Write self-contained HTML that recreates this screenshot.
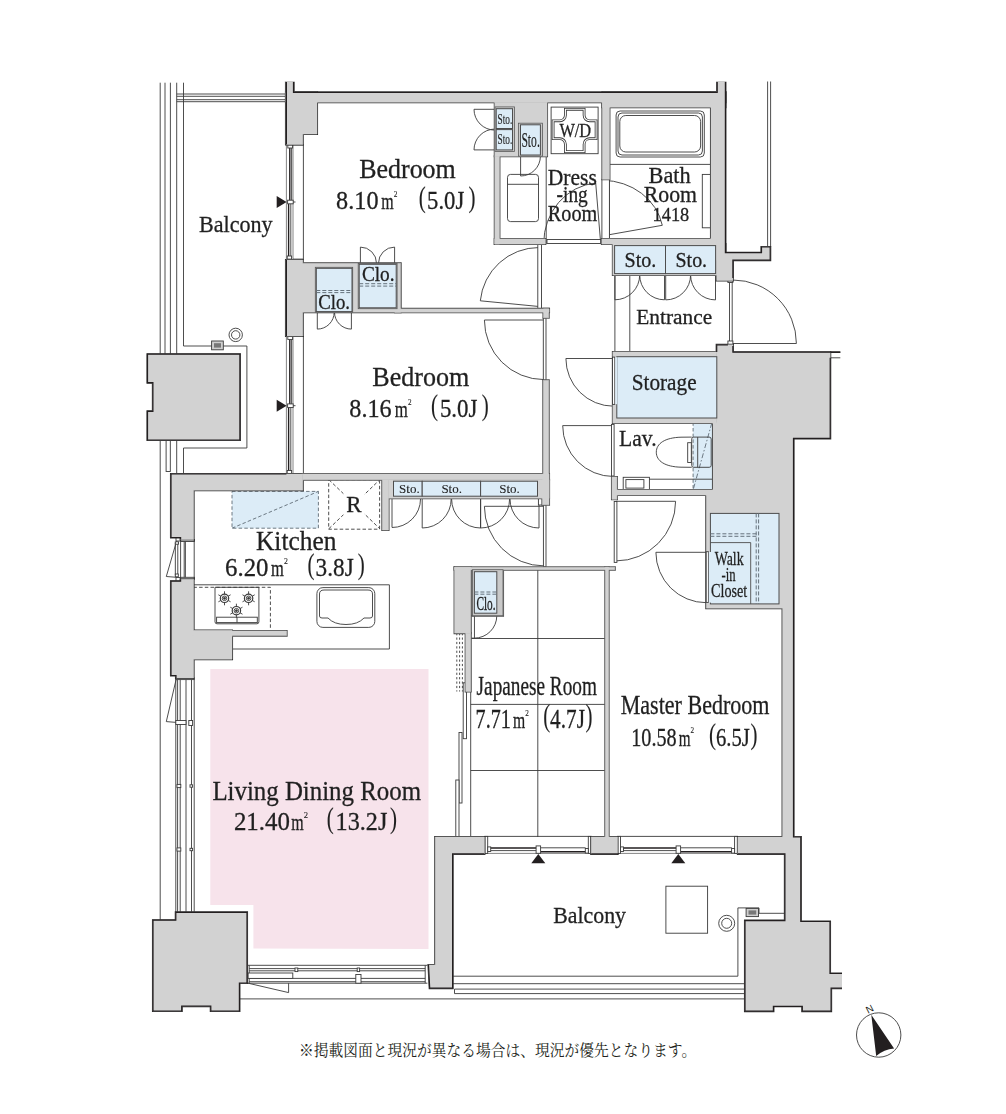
<!DOCTYPE html>
<html><head><meta charset="utf-8"><title>Floor plan</title>
<style>
html,body{margin:0;padding:0;background:#fff;}
body{width:1006px;height:1114px;position:relative;overflow:hidden;font-family:"Liberation Serif",serif;}
svg text{font-family:"Liberation Serif",serif;fill:#231f20;}
</style></head><body>
<svg width="1006" height="1114" viewBox="0 0 1006 1114" style="display:block;position:absolute;left:0;top:0">
<rect x="0" y="0" width="1006" height="1114" fill="#fff"/>
<polygon points="210.3,669.1 428.5,669.1 428.5,948.9 253.4,948.6 253.4,905.1 210.3,904.9" fill="#f7e3eb"/>
<g stroke="none">
<rect x="232.0" y="491.4" width="86.4" height="36.8" fill="#dcecf7"/>
<rect x="693.1" y="423.0" width="19.9" height="67.0" fill="#dcecf7"/>
</g>
<g fill="none" stroke="#3a3a3a" stroke-width="0.9">
<line x1="160.2" y1="82.7" x2="160.2" y2="920.3"/>
<line x1="165.0" y1="82.7" x2="165.0" y2="354.0"/>
<line x1="170.4" y1="82.7" x2="170.4" y2="354.0"/>
<line x1="176.7" y1="82.7" x2="176.7" y2="354.0"/>
<line x1="183.5" y1="82.7" x2="183.5" y2="346.0"/>
<line x1="176.7" y1="94.0" x2="286.0" y2="94.0"/>
<line x1="176.7" y1="96.3" x2="286.0" y2="96.3"/>
<line x1="176.7" y1="99.7" x2="286.0" y2="99.7"/>
<line x1="176.7" y1="101.7" x2="286.0" y2="101.7"/>
<polyline points="183.5,346.0 246.9,346.0 246.9,448.0 183.5,448.0 183.5,474.0"/>
<line x1="176.7" y1="440.0" x2="176.7" y2="474.0"/>
<rect x="166.1" y="440.0" width="4.2" height="31.5"/>
<circle cx="235.7" cy="334.9" r="6.7"/>
<circle cx="235.7" cy="334.9" r="4.2"/>
<rect x="211.6" y="341.0" width="11.7" height="8.8" fill="#cfcfcf"/>
<rect x="214.0" y="343.2" width="7.0" height="4.4" fill="#777" stroke="none"/>
<line x1="303.4" y1="144.5" x2="303.4" y2="259.5"/>
<line x1="286.4" y1="144.5" x2="286.4" y2="259.5" stroke="#777"/>
<line x1="293.0" y1="144.5" x2="293.0" y2="259.5" stroke="#777"/>
<line x1="289.8" y1="148.0" x2="289.8" y2="200.4" stroke="#231f20" stroke-width="1.4"/>
<line x1="291.6" y1="148.0" x2="291.6" y2="200.4"/>
<line x1="288.6" y1="203.8" x2="288.6" y2="256.0" stroke="#231f20" stroke-width="1.4"/>
<line x1="290.8" y1="203.8" x2="290.8" y2="256.0"/>
<rect x="287.8" y="144.9" width="4.8" height="3.1" fill="#fff"/>
<rect x="287.2" y="256.0" width="4.4" height="3.1" fill="#fff"/>
<line x1="293.0" y1="144.9" x2="303.4" y2="144.9"/>
<line x1="293.0" y1="259.1" x2="303.4" y2="259.1"/>
<rect x="287.6" y="200.2" width="5.6" height="3.6" fill="#fff"/>
<line x1="293.2" y1="202.0" x2="295.5" y2="202.0"/>
<line x1="303.4" y1="336.0" x2="303.4" y2="474.0"/>
<line x1="286.4" y1="336.0" x2="286.4" y2="474.0" stroke="#777"/>
<line x1="293.0" y1="336.0" x2="293.0" y2="474.0" stroke="#777"/>
<line x1="289.8" y1="339.5" x2="289.8" y2="404.1" stroke="#231f20" stroke-width="1.4"/>
<line x1="291.6" y1="339.5" x2="291.6" y2="404.1"/>
<line x1="288.6" y1="407.5" x2="288.6" y2="470.5" stroke="#231f20" stroke-width="1.4"/>
<line x1="290.8" y1="407.5" x2="290.8" y2="470.5"/>
<rect x="287.8" y="336.4" width="4.8" height="3.1" fill="#fff"/>
<rect x="287.2" y="470.5" width="4.4" height="3.1" fill="#fff"/>
<line x1="293.0" y1="336.4" x2="303.4" y2="336.4"/>
<line x1="293.0" y1="473.6" x2="303.4" y2="473.6"/>
<rect x="287.6" y="403.9" width="5.6" height="3.6" fill="#fff"/>
<line x1="293.2" y1="405.7" x2="295.5" y2="405.7"/>
<line x1="360.4" y1="263.2" x2="360.4" y2="247.1"/>
<line x1="394.6" y1="263.2" x2="394.6" y2="247.1"/>
<path d="M360.4,247.1A16.1,16.1 0 0 1 376.5,263.2"/>
<path d="M394.6,247.1A16.1,16.1 0 0 0 378.5,263.2"/>
<line x1="317.3" y1="312.2" x2="317.3" y2="329.1"/>
<line x1="351.4" y1="312.2" x2="351.4" y2="329.1"/>
<path d="M317.3,329.1A16.9,16.9 0 0 0 334.2,312.2"/>
<path d="M351.4,329.1A16.9,16.9 0 0 1 334.5,312.2"/>
<line x1="494.8" y1="109.3" x2="474.0" y2="109.3"/>
<line x1="494.8" y1="149.9" x2="474.0" y2="149.9"/>
<path d="M474.0,109.3A20.8,20.8 0 0 0 494.8,130.1"/>
<path d="M474.0,149.9A20.8,20.8 0 0 1 494.8,129.1"/>
<line x1="520.6" y1="156.2" x2="520.6" y2="176.0"/>
<path d="M520.6,176.0A19.8,19.8 0 0 0 540.4,156.2"/>
<rect x="507.5" y="174.4" width="31" height="47.2" rx="3" ry="3"/>
<line x1="507.5" y1="184.3" x2="538.5" y2="184.3"/>
<line x1="546.2" y1="155.7" x2="546.2" y2="244.0"/>
<rect x="551.1" y="107.1" width="47.0" height="46.6"/>
<path d="M565.4,109.3 L584.1,109.3 L584.1,115.3 A5.5,5.5 0 0 0 589.6,120.8 L596.1,120.8 L596.1,138.7 L589.6,138.7 A5.5,5.5 0 0 0 584.1,144.2 L584.1,151.6 L565.4,151.6 L565.4,144.2 A5.5,5.5 0 0 0 559.9,138.7 L553.1,138.7 L553.1,120.8 L559.9,120.8 A5.5,5.5 0 0 0 565.4,115.3 Z" stroke-width="2.8" stroke="#3a3a3a"/>
<path d="M565.4,109.3 L584.1,109.3 L584.1,115.3 A5.5,5.5 0 0 0 589.6,120.8 L596.1,120.8 L596.1,138.7 L589.6,138.7 A5.5,5.5 0 0 0 584.1,144.2 L584.1,151.6 L565.4,151.6 L565.4,144.2 A5.5,5.5 0 0 0 559.9,138.7 L553.1,138.7 L553.1,120.8 L559.9,120.8 A5.5,5.5 0 0 0 565.4,115.3 Z" stroke-width="1.1" stroke="#fff"/>
<rect x="616.1" y="111" width="88.2" height="46" rx="4" ry="4"/>
<rect x="618" y="113" width="84.4" height="42" rx="4" ry="4"/>
<rect x="619.8" y="115.5" width="80.8" height="36.5" rx="6" ry="6"/>
<line x1="609.4" y1="164.4" x2="711.0" y2="164.4"/>
<rect x="702.3" y="174.4" width="8.7" height="53.4"/>
<rect x="609.4" y="107.3" width="101.6" height="131.7"/>
<line x1="539.0" y1="306.5" x2="480.3" y2="300.8"/>
<path d="M480.3,300.8A59.0,59.0 0 0 1 539.0,247.5"/>
<line x1="600.7" y1="243.5" x2="595.7" y2="183.0"/>
<path d="M595.7,183 A57,60.5 0 0 0 543.7,243.5"/>
<line x1="601.9" y1="236.0" x2="662.3" y2="225.3"/>
<path d="M662.3,225.3 A61.5,55.5 0 0 0 603,180.3"/>
<rect x="601.9" y="179.3" width="7.5" height="59.7" fill="#fff"/>
<line x1="732.9" y1="343.5" x2="796.4" y2="343.5"/>
<path d="M796.4,343.5A63.5,63.5 0 0 0 732.9,280.0"/>
<line x1="729.5" y1="281.0" x2="729.5" y2="343.0"/>
<line x1="732.2" y1="281.0" x2="732.2" y2="343.0"/>
<rect x="727.9" y="277.5" width="5.0" height="5.0" fill="#fff"/>
<rect x="727.9" y="341.0" width="5.0" height="5.0" fill="#fff"/>
<line x1="544.0" y1="320.0" x2="484.4" y2="320.0"/>
<path d="M484.4,320.0A59.6,59.6 0 0 0 544.0,379.6"/>
<line x1="613.6" y1="358.5" x2="565.9" y2="358.5"/>
<path d="M565.9,358.5A47.7,47.7 0 0 0 613.6,406.2"/>
<line x1="613.6" y1="425.6" x2="562.7" y2="425.6"/>
<path d="M562.7,425.6A50.9,50.9 0 0 0 613.6,476.5"/>
<line x1="544.0" y1="506.3" x2="484.4" y2="506.3"/>
<path d="M484.4,506.3A59.6,59.6 0 0 0 544.0,565.9"/>
<line x1="616.0" y1="501.3" x2="675.6" y2="501.3"/>
<path d="M675.6,501.3A59.6,59.6 0 0 1 616.0,560.9"/>
<line x1="706.3" y1="552.3" x2="655.9" y2="552.3"/>
<path d="M655.9,552.3A50.4,50.4 0 0 0 706.3,602.7"/>
<rect x="470.7" y="615.7" width="3.7" height="22.4"/>
<path d="M474.4,638.1A22.4,22.4 0 0 0 496.8,615.7"/>
<line x1="614.9" y1="275.0" x2="614.9" y2="299.8"/>
<line x1="664.5" y1="275.0" x2="664.5" y2="299.8"/>
<path d="M614.9,299.8A24.8,24.8 0 0 0 639.7,275.0"/>
<path d="M664.5,299.8A24.8,24.8 0 0 1 639.7,275.0"/>
<line x1="665.7" y1="275.0" x2="665.7" y2="299.9"/>
<line x1="715.5" y1="275.0" x2="715.5" y2="299.9"/>
<path d="M665.7,299.9A24.9,24.9 0 0 0 690.6,275.0"/>
<path d="M715.5,299.9A24.9,24.9 0 0 1 690.6,275.0"/>
<line x1="614.9" y1="275.0" x2="614.9" y2="352.0"/>
<line x1="629.8" y1="275.0" x2="629.8" y2="352.0"/>
<line x1="767.6" y1="81.5" x2="767.6" y2="247.0"/>
<line x1="770.6" y1="81.5" x2="770.6" y2="247.0"/>
<rect x="537.8" y="244.0" width="3.7" height="64.6" fill="#fff"/>
<rect x="232.0" y="491.4" width="86.4" height="36.8" stroke-dasharray="3.5 2.2" stroke="#5f6b75"/>
<line x1="232.0" y1="528.2" x2="318.4" y2="491.4" stroke-dasharray="3.5 2.2" stroke="#5f6b75"/>
<rect x="328.7" y="479.7" width="50.9" height="49.5" stroke-dasharray="3.5 2.2"/>
<line x1="328.9" y1="479.7" x2="379.8" y2="528.7" stroke-dasharray="3.5 2.2"/>
<line x1="328.9" y1="528.7" x2="379.8" y2="479.7" stroke-dasharray="3.5 2.2"/>
<rect x="343.5" y="493.0" width="21.0" height="22.0" fill="#fff" stroke="none"/>
<polyline points="193.4,584.8 389.4,584.8 389.4,649.0 232.0,649.0"/>
<polyline points="193.4,587.3 270.4,587.3 270.4,630.6" stroke-dasharray="3.5 2.2"/>
<path d="M215,587.3 L258.9,587.3 L258.9,621.8 Q258.9,623.8 256.9,623.8 L217,623.8 Q215,623.8 215,621.8 Z"/>
<rect x="216.6" y="617.2" width="40.7" height="5.4"/>
<line x1="237.0" y1="617.2" x2="237.0" y2="622.6"/>
<circle cx="224.5" cy="598.3" r="4.2" stroke-width="1.2"/>
<circle cx="224.5" cy="598.3" r="2.3"/>
<circle cx="224.5" cy="598.3" r="1.0" fill="#3a3a3a"/>
<line x1="228.1" y1="600.4" x2="230.6" y2="601.8"/>
<line x1="224.5" y1="602.5" x2="224.5" y2="605.3"/>
<line x1="220.9" y1="600.4" x2="218.4" y2="601.8"/>
<line x1="220.9" y1="596.2" x2="218.4" y2="594.8"/>
<line x1="224.5" y1="594.1" x2="224.5" y2="591.3"/>
<line x1="228.1" y1="596.2" x2="230.6" y2="594.8"/>
<circle cx="248.6" cy="598.3" r="4.2" stroke-width="1.2"/>
<circle cx="248.6" cy="598.3" r="2.3"/>
<circle cx="248.6" cy="598.3" r="1.0" fill="#3a3a3a"/>
<line x1="252.2" y1="600.4" x2="254.7" y2="601.8"/>
<line x1="248.6" y1="602.5" x2="248.6" y2="605.3"/>
<line x1="245.0" y1="600.4" x2="242.5" y2="601.8"/>
<line x1="245.0" y1="596.2" x2="242.5" y2="594.8"/>
<line x1="248.6" y1="594.1" x2="248.6" y2="591.3"/>
<line x1="252.2" y1="596.2" x2="254.7" y2="594.8"/>
<circle cx="236.4" cy="610.7" r="4.2" stroke-width="1.2"/>
<circle cx="236.4" cy="610.7" r="2.3"/>
<circle cx="236.4" cy="610.7" r="1.0" fill="#3a3a3a"/>
<line x1="240.0" y1="612.8" x2="242.5" y2="614.2"/>
<line x1="236.4" y1="614.9" x2="236.4" y2="617.7"/>
<line x1="232.8" y1="612.8" x2="230.3" y2="614.2"/>
<line x1="232.8" y1="608.6" x2="230.3" y2="607.2"/>
<line x1="236.4" y1="606.5" x2="236.4" y2="603.7"/>
<line x1="240.0" y1="608.6" x2="242.5" y2="607.2"/>
<rect x="316.9" y="587.6" width="57.9" height="39.8" rx="6" ry="6"/>
<path d="M319.5,594 Q319.5,590 324,590 L368,590 Q372.5,590 372.5,594 L372.5,616 Q372.5,618 370,618 L364,618 Q358,624.5 346,624.5 Q334,624.5 328,618 L322,618 Q319.5,618 319.5,616 Z"/>
<line x1="392.0" y1="499.0" x2="392.0" y2="527.4"/>
<path d="M392.0,527.5A28.5,28.5 0 0 0 420.5,499.0"/>
<line x1="422.2" y1="499.0" x2="422.2" y2="528.0"/>
<line x1="480.6" y1="499.0" x2="480.6" y2="528.0"/>
<path d="M422.2,528.0A29.0,29.0 0 0 0 451.2,499.0"/>
<path d="M480.6,528.0A29.0,29.0 0 0 1 451.6,499.0"/>
<line x1="480.6" y1="499.0" x2="480.6" y2="528.0"/>
<line x1="539.0" y1="499.0" x2="539.0" y2="528.0"/>
<path d="M480.6,528.0A29.0,29.0 0 0 0 509.6,499.0"/>
<path d="M539.0,528.0A29.0,29.0 0 0 1 510.0,499.0"/>
<line x1="830.2" y1="352.2" x2="840.3" y2="352.2" stroke="#231f20" stroke-width="1.5"/>
<line x1="830.2" y1="357.8" x2="840.3" y2="357.8"/>
<rect x="693.1" y="423.0" width="19.9" height="67.0" stroke-dasharray="3.5 2.2" stroke="#5f6b75"/>
<line x1="711.8" y1="423.0" x2="693.1" y2="490.0" stroke-dasharray="5 2 1.5 2" stroke="#5f6b75"/>
<path d="M691.7,437.1 L681,437.2 C665,437.6 656.3,443.5 656.3,452.2 C656.3,461 665,466.8 681,467.2 L691.7,467.3"/>
<rect x="691.7" y="437.1" width="19.5" height="30.2" rx="2" ry="2"/>
<line x1="697.7" y1="437.1" x2="697.7" y2="467.3"/>
<rect x="687.7" y="442.7" width="3.6" height="19.8" fill="#fff"/>
<rect x="623.2" y="477.3" width="26.2" height="12.6" fill="#fff"/>
<rect x="625.9" y="479.6" width="18.0" height="8.5"/>
<line x1="649.4" y1="479.2" x2="712.5" y2="479.2"/>
<line x1="537.8" y1="569.7" x2="537.8" y2="837.0"/>
<line x1="470.7" y1="638.5" x2="604.9" y2="638.5"/>
<line x1="470.7" y1="704.4" x2="604.9" y2="704.4"/>
<line x1="470.7" y1="770.5" x2="604.9" y2="770.5"/>
<line x1="470.7" y1="569.7" x2="470.7" y2="837.0"/>
<line x1="456.8" y1="633.1" x2="456.8" y2="691.5" stroke-dasharray="2.2 2.2"/>
<line x1="459.6" y1="633.1" x2="459.6" y2="691.5" stroke-dasharray="2.2 2.2"/>
<line x1="462.4" y1="633.1" x2="462.4" y2="691.5" stroke-dasharray="2.2 2.2"/>
<rect x="463.2" y="682.8" width="3.3" height="55.9" fill="#fff"/>
<rect x="459.0" y="732.5" width="3.0" height="70.5" fill="#fff"/>
<rect x="455.8" y="780.0" width="3.2" height="57.0" fill="#fff"/>
<rect x="543.3" y="317.8" width="2.7" height="62.5" fill="#fff"/>
<rect x="543.4" y="504.8" width="2.6" height="62.0" fill="#fff"/>
<rect x="614.2" y="501.5" width="2.7" height="60.9" fill="#fff"/>
<rect x="611.5" y="424.4" width="2.6" height="51.6" fill="#fff"/>
<rect x="612.5" y="357.1" width="2.3" height="47.3" fill="#fff"/>
<rect x="538.4" y="498.2" width="5.0" height="6.8" fill="#fff"/>
<rect x="547.0" y="239.5" width="53.7" height="4.0" fill="#fff"/>
<line x1="484.4" y1="836.4" x2="591.6" y2="836.4"/>
<line x1="484.4" y1="853.4" x2="591.6" y2="853.4" stroke="#777"/>
<rect x="484.8" y="836.4" width="2.9" height="17.0" fill="#fff"/>
<rect x="588.3" y="836.4" width="2.9" height="17.0" fill="#fff"/>
<line x1="490.4" y1="848.1" x2="536.9" y2="848.1" stroke="#231f20" stroke-width="1.5"/>
<line x1="490.4" y1="850.6" x2="536.9" y2="850.6"/>
<line x1="540.5" y1="847.8" x2="585.6" y2="847.8"/>
<line x1="540.5" y1="851.7" x2="585.6" y2="851.7" stroke="#231f20" stroke-width="1.5"/>
<rect x="487.7" y="846.9" width="3.0" height="4.6" fill="#fff"/>
<rect x="585.3" y="848.5" width="3.0" height="4.6" fill="#fff"/>
<rect x="536.1" y="845.9" width="4.5" height="7.4" fill="#fff"/>
<line x1="617.2" y1="836.4" x2="737.9" y2="836.4"/>
<line x1="617.2" y1="853.4" x2="737.9" y2="853.4" stroke="#777"/>
<rect x="617.6" y="836.4" width="2.9" height="17.0" fill="#fff"/>
<rect x="734.6" y="836.4" width="2.9" height="17.0" fill="#fff"/>
<line x1="623.2" y1="848.1" x2="676.9" y2="848.1" stroke="#231f20" stroke-width="1.5"/>
<line x1="623.2" y1="850.6" x2="676.9" y2="850.6"/>
<line x1="680.5" y1="847.8" x2="731.9" y2="847.8"/>
<line x1="680.5" y1="851.7" x2="731.9" y2="851.7" stroke="#231f20" stroke-width="1.5"/>
<rect x="620.5" y="846.9" width="3.0" height="4.6" fill="#fff"/>
<rect x="731.6" y="848.5" width="3.0" height="4.6" fill="#fff"/>
<rect x="676.1" y="845.9" width="4.5" height="7.4" fill="#fff"/>
<polyline points="452.6,976.2 737.9,976.2 737.9,907.9 759.0,907.9 759.0,913.3 785.0,913.3"/>
<line x1="452.6" y1="983.7" x2="745.0" y2="983.7"/>
<line x1="454.5" y1="989.1" x2="745.0" y2="989.1"/>
<line x1="454.5" y1="993.6" x2="745.0" y2="993.6"/>
<line x1="454.5" y1="989.1" x2="454.5" y2="993.6"/>
<line x1="239.4" y1="998.9" x2="745.0" y2="998.9"/>
<rect x="665.9" y="886.2" width="41.7" height="47.0"/>
<circle cx="726.7" cy="923.3" r="8.0"/>
<circle cx="726.7" cy="923.3" r="5.0"/>
<rect x="746.1" y="908.4" width="12.4" height="8.2" fill="#cfcfcf"/>
<rect x="748.5" y="910.4" width="7.7" height="4.2" fill="#777" stroke="none"/>
<line x1="175.8" y1="679.0" x2="175.8" y2="912.1"/>
<line x1="177.6" y1="679.0" x2="177.6" y2="912.1"/>
<line x1="180.2" y1="679.0" x2="180.2" y2="912.1"/>
<line x1="186.0" y1="679.0" x2="186.0" y2="912.1"/>
<line x1="191.5" y1="679.0" x2="191.5" y2="912.1"/>
<line x1="194.2" y1="679.0" x2="194.2" y2="912.1"/>
<polyline points="176.2,679.1 166.3,721.6 176.2,722.4"/>
<rect x="175.8" y="720.5" width="10.2" height="4.0" fill="#fff"/>
<rect x="188.8" y="720.5" width="3.8" height="5.0" fill="#fff"/>
<rect x="177.0" y="784.4" width="3.8" height="3.2" fill="#fff"/>
<rect x="190.0" y="784.8" width="2.6" height="2.4" fill="#fff"/>
<rect x="177.0" y="847.9" width="3.8" height="3.2" fill="#fff"/>
<rect x="190.0" y="848.3" width="2.6" height="2.4" fill="#fff"/>
<rect x="175.8" y="677.9" width="18.4" height="1.7" fill="#fff"/>
<rect x="180.6" y="539.5" width="13.9" height="2.0" fill="#fff"/>
<rect x="180.6" y="577.3" width="13.9" height="1.9" fill="#fff"/>
<line x1="180.6" y1="537.5" x2="180.6" y2="581.2"/>
<line x1="184.2" y1="541.5" x2="184.2" y2="577.3"/>
<line x1="185.4" y1="541.5" x2="185.4" y2="577.3"/>
<line x1="194.2" y1="539.5" x2="194.2" y2="579.2"/>
<polyline points="176.6,541.1 166.3,576.5 176.6,577.3"/>
<rect x="175.3" y="543.0" width="2.5" height="32.0"/>
<rect x="175.3" y="541.8" width="3.2" height="2.4" fill="#fff"/>
<rect x="175.3" y="574.0" width="3.0" height="2.8" fill="#fff"/>
<polyline points="176.0,537.5 176.0,541.0 180.6,541.0"/>
<polyline points="176.0,581.2 176.0,577.5 180.6,577.5"/>
<line x1="247.4" y1="965.3" x2="427.4" y2="965.3"/>
<line x1="247.4" y1="983.2" x2="427.4" y2="983.2"/>
<line x1="249.2" y1="968.6" x2="425.2" y2="968.6"/>
<line x1="249.2" y1="970.8" x2="425.2" y2="970.8"/>
<line x1="249.2" y1="978.4" x2="425.2" y2="978.4"/>
<line x1="249.2" y1="981.7" x2="425.2" y2="981.7"/>
<line x1="249.2" y1="965.3" x2="249.2" y2="983.2"/>
<line x1="425.2" y1="965.3" x2="425.2" y2="983.2"/>
<rect x="248.1" y="973.0" width="44.7" height="5.4" fill="#fff"/>
<polyline points="248.1,983.2 288.6,992.6 288.6,983.2"/>
<rect x="355.8" y="974.5" width="5.2" height="8.7" fill="#fff"/>
<rect x="357.2" y="968.0" width="2.4" height="3.6" fill="#fff"/>
<rect x="295.0" y="968.0" width="2.8" height="3.6" fill="#fff"/>
</g>
<g fill="#231f20" stroke="none">
<polygon points="276.7,196.0 286.6,202.0 276.7,208.0"/>
<polygon points="276.7,399.7 286.6,405.7 276.7,411.7"/>
<polygon points="538.3,854.0 545.3,863.3 531.3,863.3"/>
<polygon points="678.3,854.0 685.3,863.3 671.3,863.3"/>
</g>
<g fill="none" stroke="#2e2e2e" stroke-width="2.1" stroke-linejoin="miter">
<polygon points="286.0,82.0 293.6,82.0 293.6,92.4 717.2,92.4 717.2,82.0 725.4,82.0 725.4,102.3 286.0,102.3"/>
<polygon points="286.0,92.4 317.0,92.4 317.0,134.0 302.8,134.0 302.8,144.5 286.0,144.5"/>
<polygon points="602.4,92.4 725.4,92.4 725.4,107.3 602.4,107.3"/>
<polygon points="711.0,92.4 725.4,92.4 725.4,260.1 711.0,260.1"/>
<polygon points="725.4,252.7 761.5,252.7 761.5,247.0 770.2,247.0 770.2,260.1 720.0,260.1"/>
<polygon points="716.7,244.0 725.4,244.0 725.4,256.0 732.9,256.0 732.9,280.5 716.7,280.5"/>
<polygon points="286.0,260.0 302.8,260.0 302.8,263.2 400.6,263.2 400.6,312.2 302.8,312.2 302.8,336.0 286.0,336.0"/>
<polygon points="171.0,474.0 302.8,474.0 302.8,490.2 193.6,490.2 193.6,539.5 180.6,539.5 180.6,537.5 171.0,537.5"/>
<polygon points="171.0,581.2 180.6,581.2 180.6,579.2 193.6,579.2 193.6,630.6 232.0,630.6 232.0,659.2 193.6,659.2 193.6,677.9 176.0,677.9 176.0,675.5 171.0,675.5"/>
<polygon points="147.5,354.2 239.9,354.2 239.9,440.0 147.5,440.0 147.5,411.4 152.9,411.4 152.9,382.6 147.5,382.6"/>
<polygon points="153.0,920.2 175.8,920.2 175.8,912.3 247.0,912.3 247.0,983.0 239.4,983.0 239.4,1011.0 210.8,1011.0 210.8,1006.2 181.7,1006.2 181.7,1011.0 153.0,1011.0"/>
<polygon points="435.2,837.0 484.4,837.0 484.4,853.9 452.6,853.9 452.6,988.1 429.7,988.1 428.5,965.0 435.2,965.0"/>
<polygon points="591.2,837.0 617.5,837.0 617.5,853.9 591.2,853.9"/>
<polygon points="716.7,344.8 732.9,344.8 732.9,352.2 830.2,352.2 830.2,438.4 793.5,438.4 793.5,837.0 800.8,837.0 800.8,921.5 830.0,921.5 830.0,973.5 842.0,973.5 842.0,988.1 831.1,988.1 831.1,1011.1 802.3,1011.1 802.3,1006.3 773.4,1006.3 773.4,1011.1 745.0,1011.1 745.0,920.6 784.9,920.6 784.9,853.9 737.9,853.9 737.9,837.0 782.6,837.0 782.6,608.2 706.3,608.2 706.3,495.0 713.0,495.0 713.0,423.0 716.7,423.0"/>
</g>
<g fill="none" stroke="#4a4a4a" stroke-width="2.1" stroke-linejoin="miter">
<polygon points="494.8,102.3 547.0,102.3 547.0,156.2 494.8,156.2"/>
<polygon points="494.8,156.2 499.4,156.2 499.4,244.0 494.8,244.0"/>
<polygon points="494.8,239.0 545.3,239.0 545.3,244.0 494.8,244.0"/>
<polygon points="602.4,102.3 609.4,102.3 609.4,179.3 602.4,179.3"/>
<polygon points="601.9,239.0 716.7,239.0 716.7,244.0 601.9,244.0"/>
<polygon points="612.9,244.0 716.7,244.0 716.7,275.0 612.9,275.0"/>
<polygon points="395.0,308.9 549.0,308.9 549.0,312.2 395.0,312.2"/>
<polygon points="543.5,308.9 548.7,308.9 548.7,317.8 543.5,317.8"/>
<polygon points="543.3,380.3 548.7,380.3 548.7,499.0 543.3,499.0"/>
<polygon points="302.8,474.0 549.0,474.0 549.0,479.7 302.8,479.7"/>
<polygon points="382.3,479.7 388.5,479.7 388.5,530.0 382.3,530.0"/>
<polygon points="388.5,479.7 549.0,479.7 549.0,498.2 388.5,498.2"/>
<polygon points="542.4,479.7 549.0,479.7 549.0,504.8 542.4,504.8"/>
<polygon points="612.9,352.0 716.7,352.0 716.7,423.0 612.9,423.0"/>
<polygon points="612.0,477.0 616.9,477.0 616.9,499.3 612.0,499.3"/>
<polygon points="612.9,490.0 713.0,490.0 713.0,495.0 612.9,495.0"/>
<polygon points="454.6,567.2 470.7,567.2 470.7,633.1 454.6,633.1"/>
<polygon points="465.7,633.1 470.7,633.1 470.7,691.5 465.7,691.5"/>
<polygon points="454.6,567.2 614.8,567.2 614.8,569.7 454.6,569.7"/>
<polygon points="472.4,569.7 503.0,569.7 503.0,615.7 472.4,615.7"/>
<polygon points="605.3,567.2 608.6,567.2 608.6,840.0 605.3,840.0"/>
<polygon points="193.4,631.0 286.6,631.0 286.6,635.6 193.4,635.6"/>
</g>
<g fill="#d2d2d2" stroke="#d2d2d2" stroke-width="0.5" stroke-linejoin="miter">
<polygon points="286.0,82.0 293.6,82.0 293.6,92.4 717.2,92.4 717.2,82.0 725.4,82.0 725.4,102.3 286.0,102.3"/>
<polygon points="286.0,92.4 317.0,92.4 317.0,134.0 302.8,134.0 302.8,144.5 286.0,144.5"/>
<polygon points="602.4,92.4 725.4,92.4 725.4,107.3 602.4,107.3"/>
<polygon points="711.0,92.4 725.4,92.4 725.4,260.1 711.0,260.1"/>
<polygon points="725.4,252.7 761.5,252.7 761.5,247.0 770.2,247.0 770.2,260.1 720.0,260.1"/>
<polygon points="716.7,244.0 725.4,244.0 725.4,256.0 732.9,256.0 732.9,280.5 716.7,280.5"/>
<polygon points="286.0,260.0 302.8,260.0 302.8,263.2 400.6,263.2 400.6,312.2 302.8,312.2 302.8,336.0 286.0,336.0"/>
<polygon points="171.0,474.0 302.8,474.0 302.8,490.2 193.6,490.2 193.6,539.5 180.6,539.5 180.6,537.5 171.0,537.5"/>
<polygon points="171.0,581.2 180.6,581.2 180.6,579.2 193.6,579.2 193.6,630.6 232.0,630.6 232.0,659.2 193.6,659.2 193.6,677.9 176.0,677.9 176.0,675.5 171.0,675.5"/>
<polygon points="147.5,354.2 239.9,354.2 239.9,440.0 147.5,440.0 147.5,411.4 152.9,411.4 152.9,382.6 147.5,382.6"/>
<polygon points="153.0,920.2 175.8,920.2 175.8,912.3 247.0,912.3 247.0,983.0 239.4,983.0 239.4,1011.0 210.8,1011.0 210.8,1006.2 181.7,1006.2 181.7,1011.0 153.0,1011.0"/>
<polygon points="435.2,837.0 484.4,837.0 484.4,853.9 452.6,853.9 452.6,988.1 429.7,988.1 428.5,965.0 435.2,965.0"/>
<polygon points="591.2,837.0 617.5,837.0 617.5,853.9 591.2,853.9"/>
<polygon points="716.7,344.8 732.9,344.8 732.9,352.2 830.2,352.2 830.2,438.4 793.5,438.4 793.5,837.0 800.8,837.0 800.8,921.5 830.0,921.5 830.0,973.5 842.0,973.5 842.0,988.1 831.1,988.1 831.1,1011.1 802.3,1011.1 802.3,1006.3 773.4,1006.3 773.4,1011.1 745.0,1011.1 745.0,920.6 784.9,920.6 784.9,853.9 737.9,853.9 737.9,837.0 782.6,837.0 782.6,608.2 706.3,608.2 706.3,495.0 713.0,495.0 713.0,423.0 716.7,423.0"/>
<polygon points="494.8,102.3 547.0,102.3 547.0,156.2 494.8,156.2"/>
<polygon points="494.8,156.2 499.4,156.2 499.4,244.0 494.8,244.0"/>
<polygon points="494.8,239.0 545.3,239.0 545.3,244.0 494.8,244.0"/>
<polygon points="602.4,102.3 609.4,102.3 609.4,179.3 602.4,179.3"/>
<polygon points="601.9,239.0 716.7,239.0 716.7,244.0 601.9,244.0"/>
<polygon points="612.9,244.0 716.7,244.0 716.7,275.0 612.9,275.0"/>
<polygon points="395.0,308.9 549.0,308.9 549.0,312.2 395.0,312.2"/>
<polygon points="543.5,308.9 548.7,308.9 548.7,317.8 543.5,317.8"/>
<polygon points="543.3,380.3 548.7,380.3 548.7,499.0 543.3,499.0"/>
<polygon points="302.8,474.0 549.0,474.0 549.0,479.7 302.8,479.7"/>
<polygon points="382.3,479.7 388.5,479.7 388.5,530.0 382.3,530.0"/>
<polygon points="388.5,479.7 549.0,479.7 549.0,498.2 388.5,498.2"/>
<polygon points="542.4,479.7 549.0,479.7 549.0,504.8 542.4,504.8"/>
<polygon points="612.9,352.0 716.7,352.0 716.7,423.0 612.9,423.0"/>
<polygon points="612.0,477.0 616.9,477.0 616.9,499.3 612.0,499.3"/>
<polygon points="612.9,490.0 713.0,490.0 713.0,495.0 612.9,495.0"/>
<polygon points="454.6,567.2 470.7,567.2 470.7,633.1 454.6,633.1"/>
<polygon points="465.7,633.1 470.7,633.1 470.7,691.5 465.7,691.5"/>
<polygon points="454.6,567.2 614.8,567.2 614.8,569.7 454.6,569.7"/>
<polygon points="472.4,569.7 503.0,569.7 503.0,615.7 472.4,615.7"/>
<polygon points="605.3,567.2 608.6,567.2 608.6,840.0 605.3,840.0"/>
<polygon points="193.4,631.0 286.6,631.0 286.6,635.6 193.4,635.6"/>
</g>
<g fill="none" stroke="#231f20" stroke-width="1.2" stroke-linejoin="miter" stroke-linecap="butt">
<polyline points="286.4,81.7 286.4,144.5"/>
<polyline points="293.5,81.7 293.5,92.5 717.2,92.5 717.2,81.7"/>
<polyline points="725.4,81.7 725.4,252.7 761.5,252.7 761.5,247.0 770.2,247.0 770.2,260.1 732.9,260.1 732.9,278.0"/>
<polyline points="286.4,260.0 286.4,336.0"/>
<polyline points="286.4,474.0 171.0,474.0 171.0,537.5 180.6,537.5 180.6,539.5"/>
<polyline points="180.6,579.2 180.6,581.2 171.0,581.2 171.0,675.5 176.0,675.5 176.0,677.9"/>
<polyline points="484.4,853.9 452.6,853.9 452.6,988.1 429.7,988.1 428.5,965.0"/>
<polyline points="591.2,853.9 618.6,853.9"/>
<polyline points="737.9,853.9 784.9,853.9 784.9,920.6 745.0,920.6 745.0,1011.1 773.4,1011.1 773.4,1006.3 802.3,1006.3 802.3,1011.1 831.1,1011.1 831.1,988.1 842.0,988.1"/>
<polyline points="842.0,973.5 830.0,973.5 830.0,921.5 800.8,921.5 800.8,837.0 793.5,837.0 793.5,438.4 830.2,438.4 830.2,357.8"/>
<polyline points="732.9,346.0 732.9,352.2 840.3,352.2"/>
<polyline points="716.7,352.0 716.7,344.8 727.9,344.8"/>
<polygon points="147.5,354.2 239.9,354.2 239.9,440.0 147.5,440.0 147.5,411.4 152.9,411.4 152.9,382.6 147.5,382.6"/>
<polygon points="153.0,920.2 175.8,920.2 175.8,912.3 247.0,912.3 247.0,983.0 239.4,983.0 239.4,1011.0 210.8,1011.0 210.8,1006.2 181.7,1006.2 181.7,1011.0 153.0,1011.0"/>
</g>
<rect x="842" y="972" width="4" height="18" fill="#fff"/>
<rect x="285" y="78" width="10" height="3.7" fill="#fff"/><rect x="716" y="78" width="11" height="3.7" fill="#fff"/>
<g fill="#c9c9c9" stroke="#5a5a5a" stroke-width="0.8">
<rect x="315.3" y="267.3" width="37.4" height="44.9"/>
<rect x="358.2" y="263.5" width="38.9" height="45.2"/>
<rect x="495.0" y="106.9" width="19.5" height="44.6"/>
<rect x="518.5" y="123.2" width="23.9" height="33.0"/>
<rect x="472.4" y="569.7" width="30.6" height="46.0"/>
</g>
<g fill="#dcecf7" stroke="#4d4d4d" stroke-width="1">
<rect x="496.2" y="108.7" width="16.3" height="19.8"/>
<rect x="496.2" y="129.6" width="16.3" height="20.3"/>
<rect x="520.5" y="124.8" width="19.9" height="30.2"/>
<rect x="614.6" y="245.6" width="50.9" height="28.0"/>
<rect x="665.5" y="245.6" width="50.1" height="28.0"/>
<rect x="316.3" y="268.3" width="35.7" height="43.3"/>
<rect x="359.2" y="264.3" width="37.0" height="43.5"/>
<rect x="393.5" y="481.2" width="28.7" height="15.0"/>
<rect x="422.2" y="481.2" width="58.4" height="15.0"/>
<rect x="480.6" y="481.2" width="56.9" height="15.0"/>
<rect x="616.8" y="356.7" width="100.0" height="61.3"/>
<rect x="710.4" y="513.4" width="68.6" height="90.5"/>
<rect x="474.4" y="571.7" width="22.4" height="41.5"/>
</g>
<g fill="none" stroke="#66727c" stroke-width="1" stroke-dasharray="4 2">
<line x1="316.3" y1="290.5" x2="352.0" y2="290.5"/>
<line x1="316.3" y1="292.6" x2="352.0" y2="292.6"/>
<line x1="359.2" y1="283.7" x2="396.2" y2="283.7"/>
<line x1="359.2" y1="286.1" x2="396.2" y2="286.1"/>
<line x1="474.4" y1="592.0" x2="496.8" y2="592.0"/>
<line x1="474.4" y1="594.2" x2="496.8" y2="594.2"/>
<line x1="710.4" y1="533.8" x2="757.2" y2="533.8"/>
<line x1="710.4" y1="536.3" x2="757.2" y2="536.3"/>
<line x1="756.2" y1="513.4" x2="756.2" y2="603.9"/>
<line x1="758.6" y1="513.4" x2="758.6" y2="603.9"/>
</g>
<g fill="none" stroke="#4d4d4d" stroke-width="0.9">
<polyline points="710.4,542.6 750.7,542.6 750.7,603.9"/>
</g>
<g fill="#fff" stroke="#3a3a3a" stroke-width="0.9">
<rect x="612.5" y="357.1" width="2.3" height="47.3"/>
<rect x="706.2" y="551.7" width="2.2" height="50.7"/>
</g>
<rect x="615.2" y="357.2" width="2" height="47" fill="#dcecf7"/>
<rect x="708.8" y="552" width="2.2" height="50.6" fill="#dcecf7"/>
<g style="filter:grayscale(1)">
<text x="199.0" y="231.8" font-size="23.0" textLength="73.6" lengthAdjust="spacingAndGlyphs" stroke="#231f20" stroke-width="0.3">Balcony</text>
<text x="359.2" y="177.6" font-size="27.0" textLength="96.6" lengthAdjust="spacingAndGlyphs" stroke="#231f20" stroke-width="0.3">Bedroom</text>
<text x="336.1" y="208.9" font-size="25.9" textLength="42.4" lengthAdjust="spacingAndGlyphs" stroke="#231f20" stroke-width="0.3">8.10</text>
<text x="381.2" y="208.9" font-size="22.8" textLength="12.4" lengthAdjust="spacingAndGlyphs" stroke="#231f20" stroke-width="0.3">m</text>
<text x="393.7" y="196.9" font-size="7.8" textLength="3.7" lengthAdjust="spacingAndGlyphs" stroke="#231f20" stroke-width="0.1">2</text>
<text x="418.7" y="207.4" font-size="29.7" textLength="7.0" lengthAdjust="spacingAndGlyphs" stroke="#231f20" stroke-width="0.1">(</text>
<text x="427.1" y="208.9" font-size="25.9" textLength="37.2" lengthAdjust="spacingAndGlyphs" stroke="#231f20" stroke-width="0.3">5.0J</text>
<text x="468.4" y="207.4" font-size="29.7" textLength="7.0" lengthAdjust="spacingAndGlyphs" stroke="#231f20" stroke-width="0.1">)</text>
<text x="372.3" y="386.2" font-size="27.0" textLength="97.1" lengthAdjust="spacingAndGlyphs" stroke="#231f20" stroke-width="0.3">Bedroom</text>
<text x="349.3" y="416.5" font-size="25.9" textLength="42.4" lengthAdjust="spacingAndGlyphs" stroke="#231f20" stroke-width="0.3">8.16</text>
<text x="394.7" y="416.5" font-size="22.8" textLength="13.1" lengthAdjust="spacingAndGlyphs" stroke="#231f20" stroke-width="0.3">m</text>
<text x="407.9" y="404.5" font-size="7.8" textLength="3.6" lengthAdjust="spacingAndGlyphs" stroke="#231f20" stroke-width="0.1">2</text>
<text x="431.1" y="415.0" font-size="29.7" textLength="7.0" lengthAdjust="spacingAndGlyphs" stroke="#231f20" stroke-width="0.1">(</text>
<text x="439.9" y="416.5" font-size="25.9" textLength="37.5" lengthAdjust="spacingAndGlyphs" stroke="#231f20" stroke-width="0.3">5.0J</text>
<text x="481.7" y="415.0" font-size="29.7" textLength="7.0" lengthAdjust="spacingAndGlyphs" stroke="#231f20" stroke-width="0.1">)</text>
<text x="256.0" y="550.4" font-size="26.9" textLength="80.4" lengthAdjust="spacingAndGlyphs" stroke="#231f20" stroke-width="0.3">Kitchen</text>
<text x="225.0" y="575.9" font-size="25.9" textLength="43.5" lengthAdjust="spacingAndGlyphs" stroke="#231f20" stroke-width="0.3">6.20</text>
<text x="271.0" y="575.9" font-size="22.8" textLength="12.8" lengthAdjust="spacingAndGlyphs" stroke="#231f20" stroke-width="0.3">m</text>
<text x="283.9" y="563.9" font-size="7.8" textLength="3.9" lengthAdjust="spacingAndGlyphs" stroke="#231f20" stroke-width="0.1">2</text>
<text x="307.5" y="574.4" font-size="29.7" textLength="7.0" lengthAdjust="spacingAndGlyphs" stroke="#231f20" stroke-width="0.1">(</text>
<text x="315.6" y="575.9" font-size="25.9" textLength="38.1" lengthAdjust="spacingAndGlyphs" stroke="#231f20" stroke-width="0.3">3.8J</text>
<text x="357.7" y="574.4" font-size="29.7" textLength="7.0" lengthAdjust="spacingAndGlyphs" stroke="#231f20" stroke-width="0.1">)</text>
<text x="346.3" y="511.7" font-size="24.0" textLength="15.3" lengthAdjust="spacingAndGlyphs" stroke="#231f20" stroke-width="0.3">R</text>
<text x="212.4" y="799.5" font-size="26.4" textLength="208.6" lengthAdjust="spacingAndGlyphs" stroke="#231f20" stroke-width="0.3">Living Dining Room</text>
<text x="233.9" y="829.7" font-size="25.9" textLength="56.1" lengthAdjust="spacingAndGlyphs" stroke="#231f20" stroke-width="0.3">21.40</text>
<text x="291.2" y="829.7" font-size="22.8" textLength="12.4" lengthAdjust="spacingAndGlyphs" stroke="#231f20" stroke-width="0.3">m</text>
<text x="303.7" y="817.7" font-size="7.8" textLength="4.3" lengthAdjust="spacingAndGlyphs" stroke="#231f20" stroke-width="0.1">2</text>
<text x="326.7" y="828.2" font-size="29.7" textLength="7.0" lengthAdjust="spacingAndGlyphs" stroke="#231f20" stroke-width="0.1">(</text>
<text x="335.6" y="829.7" font-size="25.9" textLength="51.8" lengthAdjust="spacingAndGlyphs" stroke="#231f20" stroke-width="0.3">13.2J</text>
<text x="390.1" y="828.2" font-size="29.7" textLength="7.0" lengthAdjust="spacingAndGlyphs" stroke="#231f20" stroke-width="0.1">)</text>
<text x="476.6" y="695.3" font-size="27.8" textLength="120.3" lengthAdjust="spacingAndGlyphs" stroke="#231f20" stroke-width="0.3">Japanese Room</text>
<text x="475.6" y="727.9" font-size="26.6" textLength="35.2" lengthAdjust="spacingAndGlyphs" stroke="#231f20" stroke-width="0.3">7.71</text>
<text x="512.9" y="727.9" font-size="23.4" textLength="12.2" lengthAdjust="spacingAndGlyphs" stroke="#231f20" stroke-width="0.3">m</text>
<text x="525.2" y="715.5" font-size="8.0" textLength="3.6" lengthAdjust="spacingAndGlyphs" stroke="#231f20" stroke-width="0.1">2</text>
<text x="543.2" y="726.4" font-size="30.5" textLength="7.0" lengthAdjust="spacingAndGlyphs" stroke="#231f20" stroke-width="0.1">(</text>
<text x="550.1" y="727.9" font-size="26.6" textLength="34.8" lengthAdjust="spacingAndGlyphs" stroke="#231f20" stroke-width="0.3">4.7J</text>
<text x="585.5" y="726.4" font-size="30.5" textLength="7.0" lengthAdjust="spacingAndGlyphs" stroke="#231f20" stroke-width="0.1">)</text>
<text x="620.7" y="713.8" font-size="26.6" textLength="148.8" lengthAdjust="spacingAndGlyphs" stroke="#231f20" stroke-width="0.3">Master Bedroom</text>
<text x="631.2" y="745.5" font-size="26.0" textLength="45.5" lengthAdjust="spacingAndGlyphs" stroke="#231f20" stroke-width="0.3">10.58</text>
<text x="678.7" y="745.5" font-size="22.9" textLength="11.8" lengthAdjust="spacingAndGlyphs" stroke="#231f20" stroke-width="0.3">m</text>
<text x="690.6" y="733.4" font-size="7.8" textLength="3.6" lengthAdjust="spacingAndGlyphs" stroke="#231f20" stroke-width="0.1">2</text>
<text x="709.0" y="744.0" font-size="29.8" textLength="7.0" lengthAdjust="spacingAndGlyphs" stroke="#231f20" stroke-width="0.1">(</text>
<text x="715.9" y="745.5" font-size="26.0" textLength="33.9" lengthAdjust="spacingAndGlyphs" stroke="#231f20" stroke-width="0.3">6.5J</text>
<text x="750.4" y="744.0" font-size="29.8" textLength="7.0" lengthAdjust="spacingAndGlyphs" stroke="#231f20" stroke-width="0.1">)</text>
<text x="553.2" y="922.8" font-size="23.0" textLength="72.8" lengthAdjust="spacingAndGlyphs" stroke="#231f20" stroke-width="0.3">Balcony</text>
<text x="547.7" y="185.4" font-size="22.7" textLength="49.1" lengthAdjust="spacingAndGlyphs" stroke="#231f20" stroke-width="0.3">Dress</text>
<text x="556.6" y="201.5" font-size="22.7" textLength="31.2" lengthAdjust="spacingAndGlyphs" stroke="#231f20" stroke-width="0.3">-ing</text>
<text x="547.8" y="221.2" font-size="22.2" textLength="49.5" lengthAdjust="spacingAndGlyphs" stroke="#231f20" stroke-width="0.3">Room</text>
<text x="648.5" y="183.3" font-size="22.2" textLength="42.2" lengthAdjust="spacingAndGlyphs" stroke="#231f20" stroke-width="0.3">Bath</text>
<text x="643.8" y="202.0" font-size="22.2" textLength="53.2" lengthAdjust="spacingAndGlyphs" stroke="#231f20" stroke-width="0.3">Room</text>
<text x="652.6" y="220.8" font-size="19.0" textLength="36.7" lengthAdjust="spacingAndGlyphs" stroke="#231f20" stroke-width="0.3">1418</text>
<text x="559.4" y="137.1" font-size="18.0" textLength="31.8" lengthAdjust="spacingAndGlyphs" stroke="#231f20" stroke-width="0.3">W/D</text>
<text x="497.5" y="123.6" font-size="13.8" textLength="14.7" lengthAdjust="spacingAndGlyphs" stroke="#231f20" stroke-width="0.15">Sto.</text>
<text x="497.5" y="144.3" font-size="13.8" textLength="14.7" lengthAdjust="spacingAndGlyphs" stroke="#231f20" stroke-width="0.15">Sto.</text>
<text x="521.4" y="147.1" font-size="21.0" textLength="18.4" lengthAdjust="spacingAndGlyphs" stroke="#231f20" stroke-width="0.2">Sto.</text>
<text x="624.6" y="266.5" font-size="21.0" textLength="31.8" lengthAdjust="spacingAndGlyphs" stroke="#231f20" stroke-width="0.3">Sto.</text>
<text x="675.5" y="266.5" font-size="21.0" textLength="31.6" lengthAdjust="spacingAndGlyphs" stroke="#231f20" stroke-width="0.3">Sto.</text>
<text x="636.2" y="324.1" font-size="21.6" textLength="76.0" lengthAdjust="spacingAndGlyphs" stroke="#231f20" stroke-width="0.3">Entrance</text>
<text x="631.7" y="390.4" font-size="23.4" textLength="64.9" lengthAdjust="spacingAndGlyphs" stroke="#231f20" stroke-width="0.3">Storage</text>
<text x="619.1" y="445.6" font-size="23.0" textLength="37.5" lengthAdjust="spacingAndGlyphs" stroke="#231f20" stroke-width="0.3">Lav.</text>
<text x="399.1" y="493.0" font-size="13.0" textLength="20.6" lengthAdjust="spacingAndGlyphs" stroke="#231f20" stroke-width="0.12">Sto.</text>
<text x="441.4" y="493.0" font-size="13.0" textLength="20.6" lengthAdjust="spacingAndGlyphs" stroke="#231f20" stroke-width="0.12">Sto.</text>
<text x="499.2" y="493.0" font-size="13.0" textLength="20.6" lengthAdjust="spacingAndGlyphs" stroke="#231f20" stroke-width="0.12">Sto.</text>
<text x="318.2" y="308.9" font-size="20.5" textLength="31.8" lengthAdjust="spacingAndGlyphs" stroke="#231f20" stroke-width="0.3">Clo.</text>
<text x="361.9" y="281.0" font-size="20.2" textLength="32.7" lengthAdjust="spacingAndGlyphs" stroke="#231f20" stroke-width="0.3">Clo.</text>
<text x="476.4" y="610.0" font-size="18.7" textLength="19.2" lengthAdjust="spacingAndGlyphs" stroke="#231f20" stroke-width="0.3">Clo.</text>
<text x="714.7" y="564.6" font-size="19.8" textLength="28.9" lengthAdjust="spacingAndGlyphs" stroke="#231f20" stroke-width="0.3">Walk</text>
<text x="721.6" y="581.0" font-size="19.8" textLength="14.1" lengthAdjust="spacingAndGlyphs" stroke="#231f20" stroke-width="0.3">-in</text>
<text x="711.0" y="597.4" font-size="19.8" textLength="36.2" lengthAdjust="spacingAndGlyphs" stroke="#231f20" stroke-width="0.3">Closet</text>
</g>
<g><title>※掲載図面と現況が異なる場合は、現況が優先となります。</title>
<text x="299.0" y="1055.8" font-size="16.4" textLength="397.2" lengthAdjust="spacingAndGlyphs" fill="#231f20" style="font-family:'Liberation Serif','Noto Serif CJK SC','Noto Sans CJK JP',serif">※掲載図面と現況が異なる場合は、現況が優先となります。</text>
</g>
<g>
<circle cx="878.7" cy="1035" r="22.2" fill="#fff" stroke="#3a3a3a" stroke-width="0.9"/>
<path d="M871.3,1014.8 L894.1,1048.6 Q884,1049.5 876.2,1056 Z" fill="#231f20"/>
<text x="0" y="3.6" font-size="10" text-anchor="middle" fill="#231f20" style="font-family:'Liberation Sans',sans-serif" transform="translate(869.6,1008.8) rotate(-27)">N</text>
</g>
</svg>
</body></html>
